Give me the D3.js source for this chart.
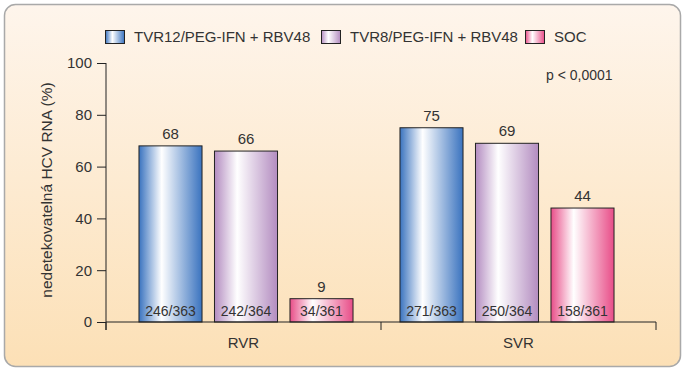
<!DOCTYPE html>
<html>
<head>
<meta charset="utf-8">
<script src="https://cdn.jsdelivr.net/npm/d3@7"></script>
<style>
  body { margin: 0; background: #fff; }
  text { font-family: "Liberation Sans", Arial, sans-serif; fill: #333; }
</style>
</head>
<body>
<div id="chart"></div>
<script>
// data
var groups = ["RVR", "SVR"];
var series = ["TVR12/PEG-IFN + RBV48", "TVR8/PEG-IFN + RBV48", "SOC"];
var values = [[68, 66, 9], [75, 69, 44]];
var counts = [["246/363", "242/364", "34/361"], ["271/363", "250/364", "158/361"]];
var yTicks = [0, 20, 40, 60, 80, 100];
var colors = [
    { edge: "#3a73bf", mid: "#ffffff" },
    { edge: "#b38cc0", mid: "#ffffff" },
    { edge: "#e84d88", mid: "#ffffff" }
];

var width = 684, height = 370;

var svg = d3.select("#chart").append("svg")
    .attr("width", width)
    .attr("height", height);

var defs = svg.append("defs");

// background
var bg = defs.append("linearGradient").attr("id", "bg")
    .attr("x1", 0).attr("y1", 0).attr("x2", 0).attr("y2", 1);
bg.append("stop").attr("offset", "0%").attr("stop-color", "#fef5ec");
bg.append("stop").attr("offset", "100%").attr("stop-color", "#fce0b6");

svg.append("rect")
    .attr("x", 4.5).attr("y", 4.5)
    .attr("width", 676).attr("height", 362)
    .attr("rx", 11)
    .style("fill", "url(#bg)")
    .style("stroke", "#a9a9a9")
    .style("stroke-width", "1.5px");

// bar gradients
colors.forEach(function (c, i) {
    var g = defs.append("linearGradient").attr("id", "bar" + i)
        .attr("x1", 0).attr("y1", 0).attr("x2", 1).attr("y2", 0);
    g.append("stop").attr("offset", "0%").attr("stop-color", c.edge);
    g.append("stop").attr("offset", "36%").attr("stop-color", c.mid);
    g.append("stop").attr("offset", "100%").attr("stop-color", c.edge);
});

// scales
var y = d3.scaleLinear().domain([0, 100]).range([322, 63]);
var xAxis = d3.scaleBand().domain(groups).range([106, 656]);
var x0 = d3.scaleBand().domain(groups).range([115.5, 637.5]);
var x1 = d3.scaleBand().domain(series).range([0, x0.bandwidth()])
    .paddingInner(0.165).paddingOuter(0.311);

// y axis
var yAxisG = svg.append("g")
    .attr("transform", "translate(106,0)")
    .call(d3.axisLeft(y).tickValues(yTicks).tickSize(9).tickPadding(5));
yAxisG.select(".domain").remove();
yAxisG.selectAll("line").style("stroke", "#222");
yAxisG.selectAll("text")
    .style("font-size", "15px")
    .style("fill", "#333")
    .style("font-family", "'Liberation Sans', Arial, sans-serif");

svg.append("line")
    .attr("x1", 106).attr("x2", 106)
    .attr("y1", y(100)).attr("y2", y(0) + 8)
    .style("stroke", "#222").style("stroke-width", "1px");

svg.append("text")
    .attr("transform", "translate(52,190) rotate(-90)")
    .attr("text-anchor", "middle")
    .text("nedetekovatelná HCV RNA (%)")
    .style("font-size", "15.5px");

// bars
var gr = svg.selectAll(".grp").data(groups).enter().append("g")
    .attr("class", "grp")
    .attr("transform", function (d) { return "translate(" + x0(d) + ",0)"; });

gr.each(function (gname, gi) {
    var g = d3.select(this);
    var rows = series.map(function (s, si) {
        return { s: s, si: si, v: values[gi][si], n: counts[gi][si] };
    });

    g.selectAll("rect").data(rows).enter().append("rect")
        .attr("x", function (d) { return x1(d.s); })
        .attr("y", function (d) { return y(d.v); })
        .attr("width", x1.bandwidth())
        .attr("height", function (d) { return y(0) - y(d.v); })
        .style("fill", function (d) { return "url(#bar" + d.si + ")"; })
        .style("stroke", "#222")
        .style("stroke-width", "1px");

    g.selectAll(".val").data(rows).enter().append("text")
        .attr("class", "val")
        .attr("x", function (d) { return x1(d.s) + x1.bandwidth() / 2; })
        .attr("y", function (d) { return y(d.v) - 7; })
        .attr("text-anchor", "middle")
        .text(function (d) { return d.v; })
        .style("font-size", "15px");

    g.selectAll(".cnt").data(rows).enter().append("text")
        .attr("class", "cnt")
        .attr("x", function (d) { return x1(d.s) + x1.bandwidth() / 2; })
        .attr("y", y(0) - 6)
        .attr("text-anchor", "middle")
        .text(function (d) { return d.n; })
        .style("font-size", "14px");
});

// x axis
svg.append("line")
    .attr("x1", 106).attr("x2", 656)
    .attr("y1", y(0)).attr("y2", y(0))
    .style("stroke", "#222").style("stroke-width", "1px");

var bounds = groups.map(function (d) { return xAxis(d); }).concat([xAxis.range()[1]]);
svg.selectAll(".xtick").data(bounds).enter().append("line")
    .attr("class", "xtick")
    .attr("x1", function (d) { return d; }).attr("x2", function (d) { return d; })
    .attr("y1", y(0)).attr("y2", y(0) + 8)
    .style("stroke", "#222");

svg.selectAll(".xlab").data(groups).enter().append("text")
    .attr("class", "xlab")
    .attr("x", function (d) { return xAxis(d) + xAxis.bandwidth() / 2; })
    .attr("y", 348)
    .attr("text-anchor", "middle")
    .text(function (d) { return d; })
    .style("font-size", "15px");

// p value
svg.append("text")
    .attr("x", 546)
    .attr("y", 80)
    .text("p < 0,0001")
    .style("font-size", "14px");

// legend
var legX = [105, 321, 525];
series.forEach(function (s, i) {
    svg.append("rect")
        .attr("x", legX[i] + 0.5).attr("y", 30.5)
        .attr("width", 19).attr("height", 13)
        .style("fill", "url(#bar" + i + ")")
        .style("stroke", "#222")
        .style("stroke-width", "1px");
    svg.append("text")
        .attr("x", legX[i] + 29)
        .attr("y", 42)
        .text(s)
        .style("font-size", "15px");
});
</script>
</body>
</html>
